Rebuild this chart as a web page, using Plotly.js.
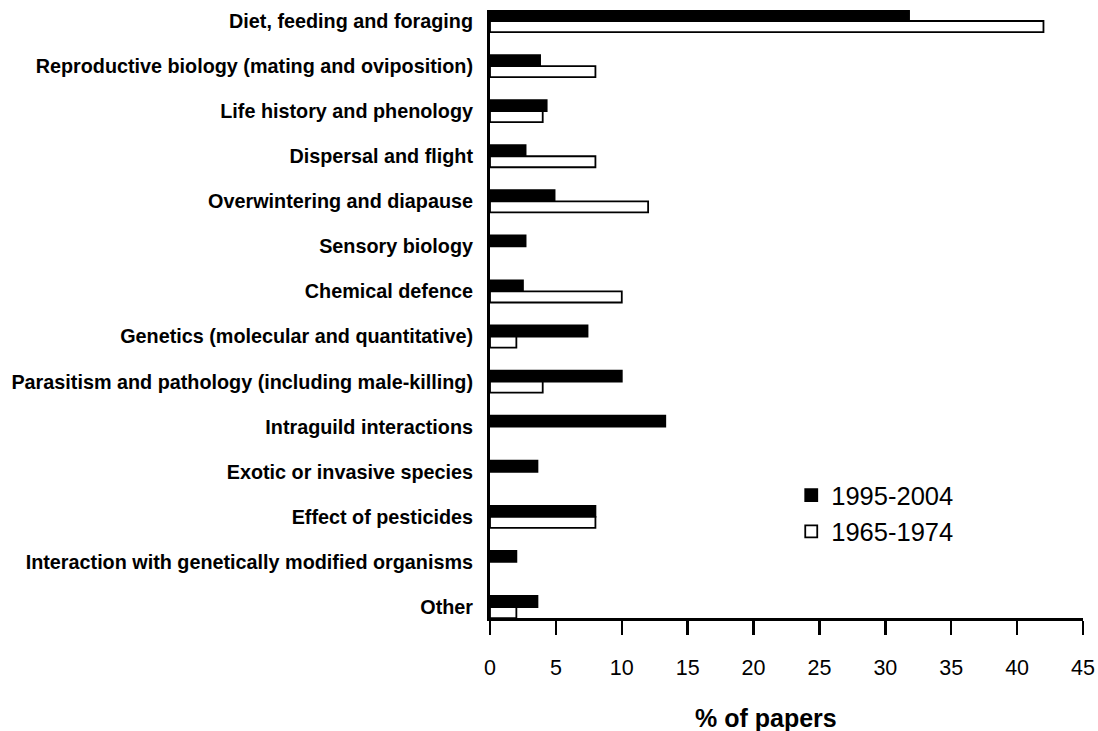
<!DOCTYPE html>
<html>
<head>
<meta charset="utf-8">
<script src="https://cdn.plot.ly/plotly-3.0.1.min.js"></script>
<style>html,body{margin:0;padding:0;background:#fff;}#chart{width:1098px;height:731px;}</style>
</head>
<body>
<div id="chart"></div>
<script>
const categories = [
  "Diet, feeding and foraging",
  "Reproductive biology (mating and oviposition)",
  "Life history and phenology",
  "Dispersal and flight",
  "Overwintering and diapause",
  "Sensory biology",
  "Chemical defence",
  "Genetics (molecular and quantitative)",
  "Parasitism and pathology (including male-killing)",
  "Intraguild interactions",
  "Exotic or invasive species",
  "Effect of pesticides",
  "Interaction with genetically modified organisms",
  "Other"
];
const recent = [31.8, 3.8, 4.3, 2.7, 4.9, 2.7, 2.5, 7.4, 10.0, 13.3, 3.6, 8.0, 2.0, 3.6];
const earlier = [42, 8, 4, 8, 12, 0, 10, 2, 4, 0, 0, 8, 0, 2];
const seriesNames = ["1995-2004", "1965-1974"];
const xTicks = [0, 5, 10, 15, 20, 25, 30, 35, 40, 45];

const lineWidths = arr => arr.map(v => (v === 0 ? 0 : 1.8));

const traces = [
  {type: "bar", orientation: "h", name: seriesNames[0], y: categories, x: recent,
   marker: {color: "#000000", line: {color: "#000000", width: lineWidths(recent)}}},
  {type: "bar", orientation: "h", name: seriesNames[1], y: categories, x: earlier,
   marker: {color: "#ffffff", line: {color: "#000000", width: lineWidths(earlier)}}}
];

const layout = {
  width: 1098, height: 731,
  margin: {l: 490, r: 15, t: 10, b: 113, pad: 0},
  paper_bgcolor: "#ffffff", plot_bgcolor: "#ffffff",
  font: {family: "Liberation Sans, Arial, sans-serif", color: "#000000"},
  barmode: "group", bargap: 0.51, bargroupgap: 0,
  showlegend: true,
  legend: {x: 0.508, y: 0.24, xanchor: "left", yanchor: "top",
    font: {size: 25.5, family: "Liberation Sans, Arial, sans-serif"},
    bgcolor: "rgba(0,0,0,0)", tracegroupgap: 0},
  xaxis: {range: [0, 45], tickvals: xTicks, ticktext: xTicks.map(String),
    showgrid: false, zeroline: false, showline: true, linecolor: "#000", linewidth: 2.5,
    ticks: "outside", ticklen: 14, tickwidth: 2.5, tickcolor: "#000",
    tickfont: {size: 21.5}, ticklabelstandoff: 15, fixedrange: true},
  yaxis: {type: "category", range: [13.244, -0.244], showgrid: false, zeroline: false,
    showline: true, linecolor: "#000", linewidth: 3, ticks: "",
    tickfont: {size: 19.8, family: "Liberation Sans, Arial, sans-serif", weight: "bold"},
    ticklabelstandoff: 10, fixedrange: true},
  annotations: [{text: "<b>% of papers</b>", xref: "paper", yref: "paper",
    x: 0.465, y: -0.165, xanchor: "center", yanchor: "middle", showarrow: false,
    font: {size: 25}}]
};

Plotly.newPlot("chart", traces, layout, {displayModeBar: false, staticPlot: true});
</script>
</body>
</html>
